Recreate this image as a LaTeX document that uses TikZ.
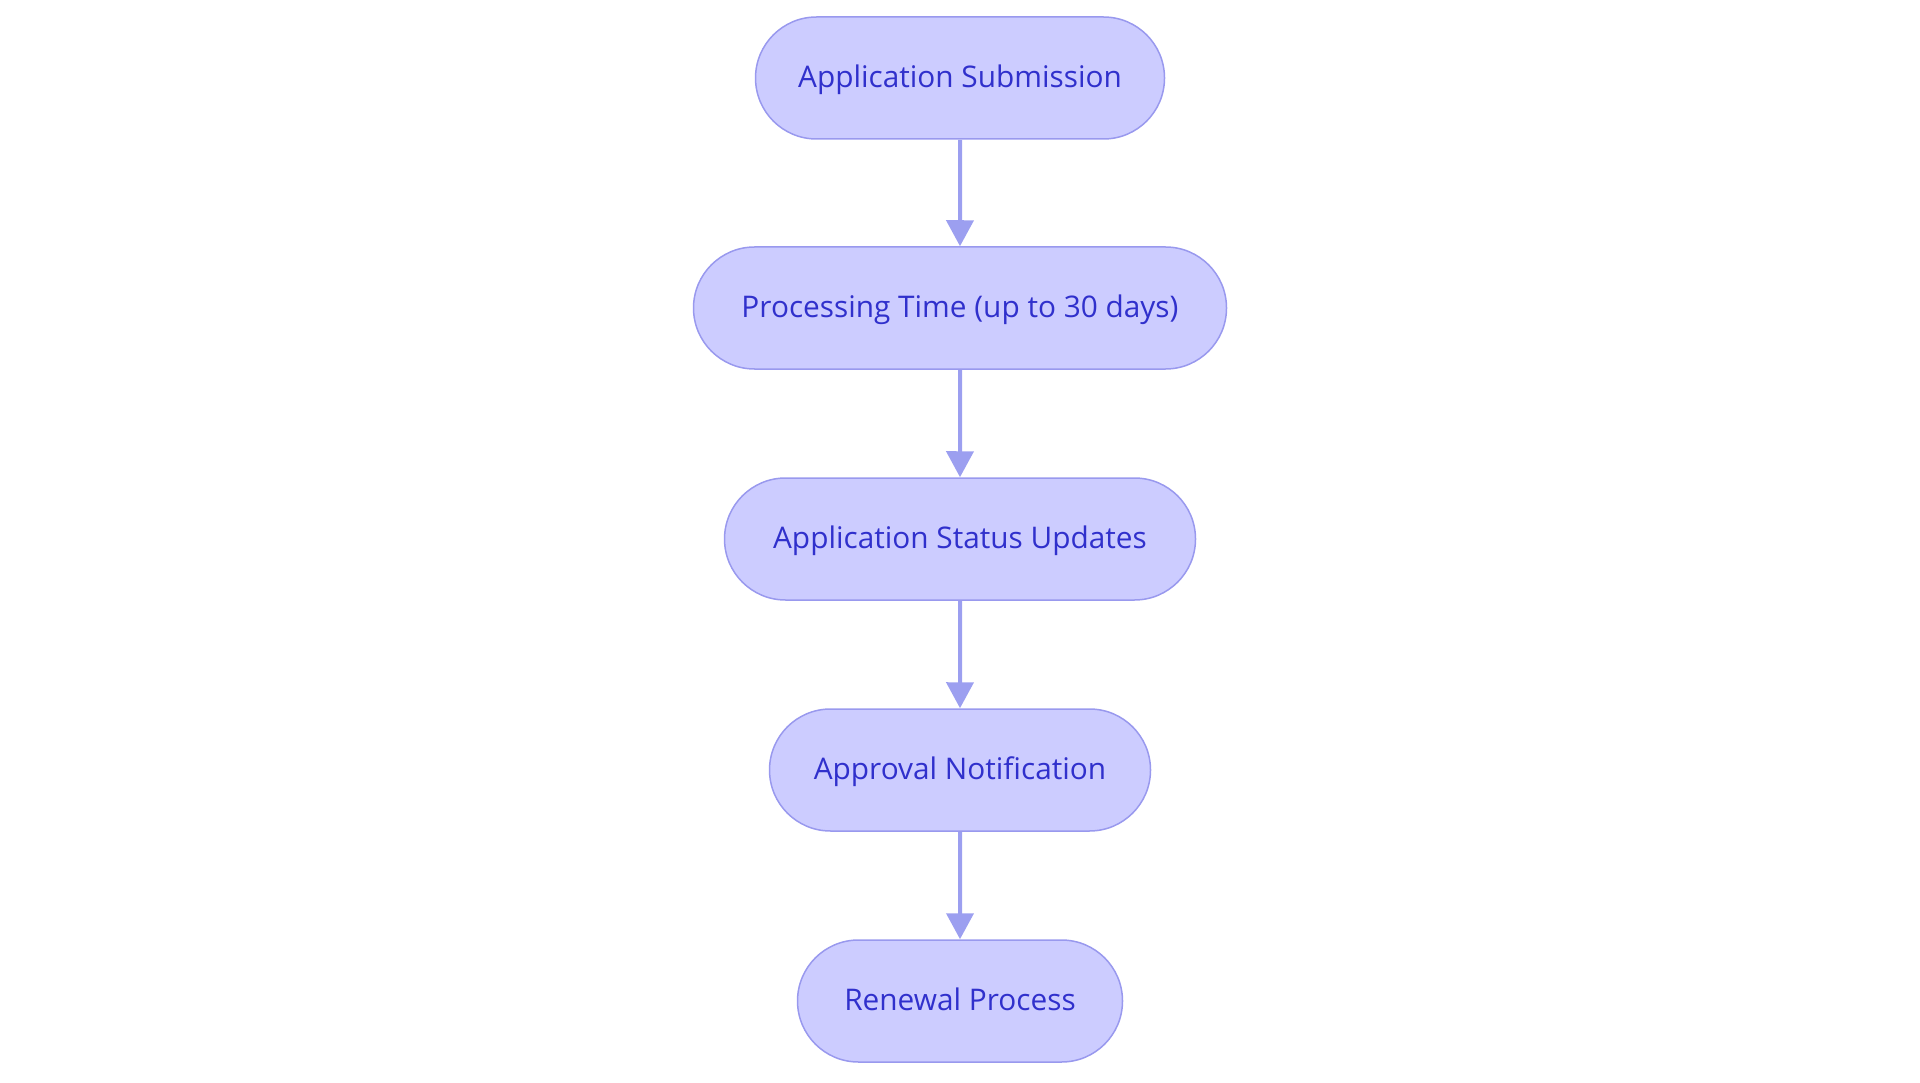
\documentclass[tikz,border=0pt]{standalone}
\usepackage{fontspec}
\setmainfont{Open Sans}
\usetikzlibrary{arrows.meta,shapes.misc}
\definecolor{nodefill}{HTML}{CCCCFF}
\definecolor{nodeline}{HTML}{9999EE}
\definecolor{nodetext}{HTML}{3030CC}
\definecolor{arrowcol}{HTML}{9C9FF0}
\tikzset{
  stepbox/.style={rounded rectangle, draw=nodeline, fill=nodefill, line width=1.5pt,
    text=nodetext, font=\fontsize{29.8}{34}\selectfont, minimum height=122pt,
    inner xsep=0pt, text height=24pt, text depth=5pt},
  flow/.style={draw=arrowcol, line width=4pt, -{Triangle[length=26pt,width=27pt]}, shorten >=0pt}
}
\begin{document}
\begin{tikzpicture}[x=1pt,y=-1pt]
\useasboundingbox (0,0) rectangle (1920,1083);
\node[stepbox, minimum width=409pt] (a) at (960,78) {Application Submission};
\node[stepbox, minimum width=533pt] (b) at (960,308) {Processing Time (up to 30 days)};
\node[stepbox, minimum width=471pt] (c) at (960,539) {Application Status Updates};
\node[stepbox, minimum width=381pt] (d) at (960,770) {Approval Notification};
\node[stepbox, minimum width=325pt] (e) at (960,1001) {Renewal Process};
\draw[flow] (a) -- (b);
\draw[flow] (b) -- (c);
\draw[flow] (c) -- (d);
\draw[flow] (d) -- (e);
\end{tikzpicture}
\end{document}
